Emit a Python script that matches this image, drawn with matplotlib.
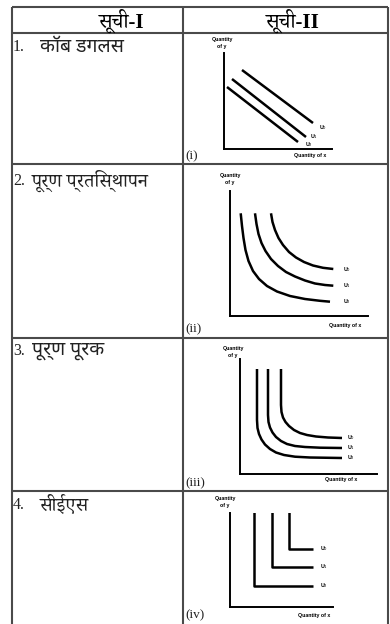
import matplotlib
matplotlib.use("Agg")
import matplotlib.pyplot as plt

W, H = 390, 624
SERIF = ["Liberation Serif", "Noto Serif Devanagari", "DejaVu Serif"]
SANS_DEV = ["Liberation Serif", "Noto Sans Devanagari", "DejaVu Sans"]
TINY = ["Liberation Sans"]

# ---------------- data ----------------
headers = ["सूची-I", "सूची-II"]
row_numbers = ["1.", "2.", "3.", "4."]
row_labels = ["कॉब डगलस", "पूर्ण प्रतिस्थापन", "पूर्ण पूरक", "सीईएस"]
row_fonts = [SANS_DEV, SERIF, SANS_DEV, SERIF]
roman = ["(i)", "(ii)", "(iii)", "(iv)"]
curve_names = ["U$_0$", "U$_1$", "U$_2$"]
y_label = "Quantity\nof y"
x_label = "Quantity of x"

# diagram (i): straight parallel lines (x, y in diagram units)
d1_x = [[3, 74], [8, 82], [18, 89]]
d1_y = [[62, 7], [70, 12], [79, 26]]
# diagram (ii): convex curves
d2_x = [[10.7, 12, 13.5, 15.5, 18.5, 23, 29, 37, 47, 60, 75, 90, 100],
        [25, 26.5, 28.5, 31.5, 35.5, 41, 48, 56, 65, 75, 85, 95, 103.3],
        [41, 42.5, 45, 48.5, 53, 59, 66, 74, 83, 93, 103.3]]
d2_y = [[102.7, 90, 78, 66, 55, 45, 37, 30, 24.5, 20, 17, 15.2, 14.3],
        [102.7, 92, 82, 73, 65, 57, 50, 44, 39.5, 35.5, 32.5, 31, 30.3],
        [102.7, 94, 86, 78, 71, 64, 58.5, 54, 50.5, 48.2, 47]]
# diagram (iii): nearly L-shaped curves
d3_x = [[17, 17, 17.5, 19, 21.5, 25, 30, 36, 44, 55, 70, 102],
        [28, 28, 28.5, 30, 32.5, 36, 41, 47, 55, 65, 80, 102],
        [41, 41, 41.5, 43, 45.5, 49, 54, 60, 67, 76, 88, 102]]
d3_y = [[105, 54, 46, 40, 34.5, 29.5, 25, 21.5, 19, 17.3, 16.5, 16],
        [105, 59, 52, 46.5, 41.5, 37, 33, 30, 28, 27, 26.3, 26],
        [105, 69, 62, 56.5, 52, 48, 44, 41, 39, 37.5, 36.5, 36]]
# diagram (iv): right-angled curves
d4_x = [[24, 24, 83], [42, 42, 83], [59, 59, 83]]
d4_y = [[95, 21, 21], [95, 40, 40], [95, 58, 58]]

# layout (pixels)
col_x = [12, 183, 388]
row_y = [7, 33, 164, 338, 491, 640]

fig = plt.figure(figsize=(W / 100, H / 100), dpi=100)
base = fig.add_axes([0, 0, 1, 1])
base.set_xlim(0, W)
base.set_ylim(H, 0)
base.axis("off")

lc = "#4a4a4a"
for yy in row_y[:-1]:
    base.plot([col_x[0], col_x[-1]], [yy, yy], color=lc, lw=1.5, solid_capstyle="butt")
for xx in col_x:
    base.plot([xx, xx], [row_y[0], row_y[-1]], color=lc, lw=1.5, solid_capstyle="butt")

# headers
base.text(122, 21, headers[0], family=SERIF, fontsize=15, fontweight="bold",
          ha="center", va="center")
base.text(293, 21, headers[1], family=SERIF, fontsize=15, fontweight="bold",
          ha="center", va="center")

label_y = [47, 181, 351, 505]
label_x = [40, 32, 32, 40]
for i in range(4):
    base.text(13, label_y[i], row_numbers[i], family=SERIF, fontsize=11.5,
              ha="left", va="center", color="#222222")
    base.text(label_x[i], label_y[i], row_labels[i], family=row_fonts[i],
              fontsize=14, ha="left", va="center", color="#222222")

roman_y = [156, 329, 483, 615]
for i in range(4):
    base.text(185, roman_y[i], roman[i], family=SERIF, fontsize=9.5,
              ha="left", va="center", color="#222222")

# diagram axes: (origin_x, origin_y, width, height) in pixels
diagrams = [
    (224, 149, 108, 96, d1_x, d1_y, [95, 86, 81], [21, 12, 4], 310, 156, 222, 43),
    (230, 316, 138, 125, d2_x, d2_y, [113, 113, 113], [46, 30, 14], 345, 326, 230, 179),
    (240, 474, 137, 115, d3_x, d3_y, [107, 107, 107], [36, 26, 16], 341, 480, 233, 352),
    (230, 607, 103, 94, d4_x, d4_y, [90, 90, 90], [58, 40, 21], 314, 616, 225, 502),
]

for ox, oy, w, h, xs, ys, lx, ly, qx, qy, vx, vy in diagrams:
    ax = fig.add_axes([ox / W, 1 - oy / H, w / W, h / H])
    ax.set_xlim(0, w)
    ax.set_ylim(0, h)
    ax.patch.set_alpha(0)
    for s in ["top", "right"]:
        ax.spines[s].set_visible(False)
    for s in ["left", "bottom"]:
        ax.spines[s].set_linewidth(1.4)
        ax.spines[s].set_color("black")
    ax.set_xticks([])
    ax.set_yticks([])
    for j in range(3):
        ax.plot(xs[j], ys[j], color="black", lw=1.8, solid_capstyle="butt",
                solid_joinstyle="round")
        ax.text(lx[j], ly[j], curve_names[j], fontsize=3.8, family=TINY,
                fontweight="bold", ha="left", va="center", clip_on=False)
    base.text(qx, qy, x_label, fontsize=3.8, family=TINY, fontweight="bold",
              ha="center", va="center")
    base.text(vx, vy, y_label, fontsize=3.8, family=TINY, fontweight="bold",
              ha="center", va="center", linespacing=1.6)

fig.savefig("out.png", dpi=100)
